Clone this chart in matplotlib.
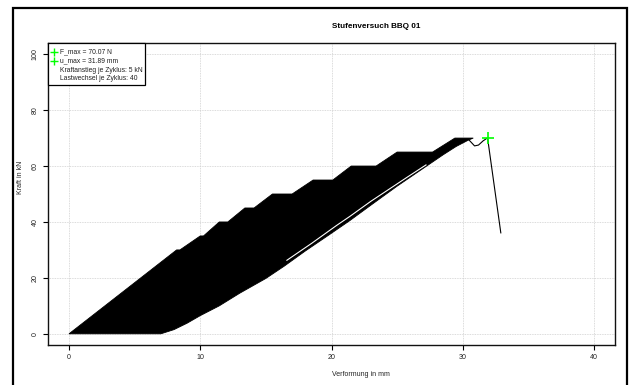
import matplotlib
matplotlib.use("Agg")
import matplotlib.pyplot as plt
from matplotlib.patches import Rectangle, Polygon
from matplotlib.lines import Line2D

plt.rcParams['font.family'] = ['Liberation Sans', 'DejaVu Sans']

# ---- data ----
# upper (loading) envelope of all cycles, staircase of 5 kN steps
upper_x = [0.0, 8.2, 8.45, 10.0, 10.25, 11.45, 12.1, 13.4, 14.1, 15.5, 17.0,
           18.6, 20.1, 21.5, 23.4, 25.0, 27.7, 29.4, 30.8]
upper_F = [0.0, 30.0, 30.0, 35.0, 35.0, 40.0, 40.0, 45.0, 45.0, 50.0, 50.0,
           55.0, 55.0, 60.0, 60.0, 65.0, 65.0, 70.0, 70.0]
# lower (unloading) envelope
lower_x = [0.0, 7.0, 8.0, 9.0, 10.0, 11.45, 13.0, 15.0, 16.4, 18.0, 19.85,
           21.4, 23.0, 25.0, 27.0, 28.5, 29.5, 30.4]
lower_F = [0.0, 0.0, 1.5, 3.8, 6.5, 10.0, 14.5, 19.8, 24.2, 29.6, 35.5,
           40.5, 46.0, 52.8, 59.2, 64.0, 67.0, 69.2]
# visible white gap between loading curves
gap_x = [16.6, 18.5, 20.4, 21.4, 23.0, 25.7, 27.2]
gap_F = [26.3, 32.4, 38.8, 42.0, 47.4, 55.8, 60.4]
# final failure branch
tail_x = [30.5, 30.9, 31.2, 31.55, 31.89, 32.9]
tail_F = [69.2, 67.2, 67.5, 69.0, 70.07, 36.1]
# maximum point
u_max = 31.89
F_max = 70.07

x_ticks = [0, 10, 20, 30, 40]
y_ticks = [0, 20, 40, 60, 80, 100]
legend_lines = ["F_max = 70.07 N", "u_max = 31.89 mm",
                "Kraftanstieg je Zyklus: 5 kN", "Lastwechsel je Zyklus: 40"]

W, H = 634, 385
def fx(x):
    return x / W
def fy(y):
    return 1 - y / H

fig = plt.figure(figsize=(6.34, 3.85), dpi=100)
ax = fig.add_axes([fx(48), fy(345), fx(615) - fx(48), fy(43) - fy(345)])
ax.set_xlim(-1.6, 41.6)
ax.set_ylim(-4, 104)

ax.set_xticks(x_ticks)
ax.set_yticks(y_ticks)
ax.set_xticklabels([str(v) for v in x_ticks])
ax.set_yticklabels([str(v) for v in y_ticks], rotation=90, va='center')
ax.tick_params(axis='both', direction='out', length=3.6, width=0.8,
               labelsize=5.1, colors='black', labelcolor='#222222')
ax.tick_params(axis='x', pad=3)
ax.tick_params(axis='y', pad=3)
ax.grid(True, color='#cfcfcf', linestyle=(0, (1, 1)), linewidth=0.6)
ax.set_axisbelow(True)
for s in ax.spines.values():
    s.set_linewidth(1.0)
    s.set_color('#111111')

# filled envelope of the cycles
poly_pts = list(zip(upper_x, upper_F)) + list(zip(lower_x[::-1], lower_F[::-1]))
ax.add_patch(Polygon(poly_pts, closed=True, facecolor='black',
                     edgecolor='black', linewidth=0.6, zorder=3))
ax.plot(gap_x, gap_F, color='white', linewidth=0.8, zorder=4)
ax.plot(tail_x, tail_F, color='black', linewidth=0.8, zorder=4)
ax.plot([u_max], [F_max], marker='+', color='#00ff00', markersize=9,
        markeredgewidth=1.2, linestyle='none', zorder=5)

# legend box (top-left corner of the plot)
fig.patches.append(Rectangle((fx(48), fy(85)), fx(145) - fx(48), fy(43) - fy(85),
                             transform=fig.transFigure, facecolor='white',
                             edgecolor='black', linewidth=0.9, zorder=10))
row_y = [52, 61, 70, 79]
for i, (txt, yy) in enumerate(zip(legend_lines, row_y)):
    fig.text(fx(59.5), fy(yy), txt, fontsize=4.85, ha='left', va='center',
             color='#222222', zorder=11)
    if i < 2:
        fig.lines.append(Line2D([fx(54)], [fy(yy)], marker='+', color='#00ff00',
                                markersize=6, markeredgewidth=1.0,
                                transform=fig.transFigure, zorder=11))

# texts
fig.text(fx(332), fy(27), "Stufenversuch BBQ 01", fontsize=5.9, fontweight='bold',
         ha='left', va='center')
fig.text(fx(332), fy(375), "Verformung in mm", fontsize=5.0, ha='left',
         va='center', color='#222222')
fig.text(fx(21), fy(194), "Kraft in kN", fontsize=5.0, rotation=90, ha='center',
         va='bottom', color='#222222')

# outer frame
fig.patches.append(Rectangle((fx(13), -0.1), fx(627) - fx(13), fy(8) + 0.1,
                             transform=fig.transFigure, facecolor='none',
                             edgecolor='black', linewidth=1.6, zorder=20))

fig.savefig("out.png", dpi=100)
